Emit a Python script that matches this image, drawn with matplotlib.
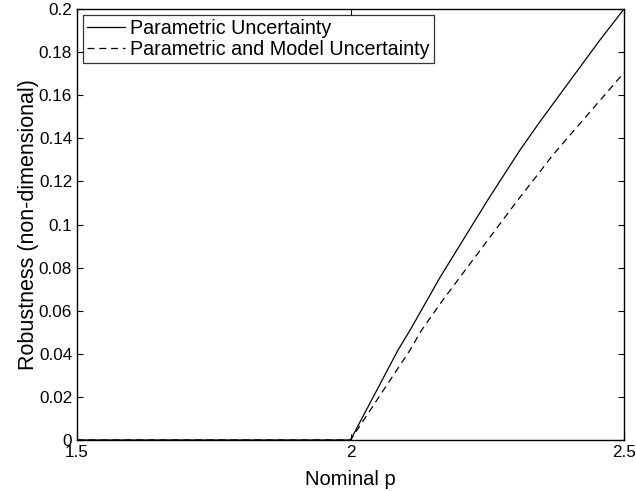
import matplotlib
matplotlib.use("Agg")
import matplotlib.pyplot as plt

plt.rcParams["font.family"] = ["Liberation Sans", "DejaVu Sans"]
plt.rcParams["lines.scale_dashes"] = False

# nominal p vs robustness
p_param = [1.5, 2.0, 2.087, 2.109, 2.164, 2.251, 2.31, 2.346, 2.456, 2.5]
rob_param = [0.0, 0.0, 0.0418, 0.051, 0.0756, 0.1114, 0.1346, 0.1476, 0.1856, 0.2]

p_model = [1.5, 2.0, 2.109, 2.130, 2.169, 2.306, 2.346, 2.370, 2.493, 2.5]
rob_model = [0.0, 0.0, 0.0418, 0.051, 0.065, 0.1114, 0.1244, 0.1323, 0.1684, 0.1705]

xticks = [1.5, 2.0, 2.5]
xtick_labels = ["1.5", "2", "2.5"]
yticks = [0, 0.02, 0.04, 0.06, 0.08, 0.1, 0.12, 0.14, 0.16, 0.18, 0.2]
ytick_labels = ["0", "0.02", "0.04", "0.06", "0.08", "0.1", "0.12", "0.14",
                "0.16", "0.18", "0.2"]

fig = plt.figure(figsize=(6.36, 4.91), dpi=100)
ax = fig.add_axes([77 / 636, 1 - 440 / 491, 547 / 636, 431 / 491])

ax.plot(p_param, rob_param, color="black", lw=0.9, label="Parametric Uncertainty")
ax.plot(p_model, rob_model, color="black", lw=0.9, dashes=(5, 3.5),
        label="Parametric and Model Uncertainty")

ax.set_xlim(1.5, 2.5)
ax.set_ylim(0, 0.2)
ax.set_xticks(xticks)
ax.set_xticklabels(xtick_labels)
ax.set_yticks(yticks)
ax.set_yticklabels(ytick_labels)
ax.tick_params(direction="in", top=True, right=True, length=4, width=0.8,
               labelsize=12.3, pad=3.5)
for s in ax.spines.values():
    s.set_linewidth(1.0)

ax.set_xlabel("Nominal p", fontsize=14.5, labelpad=7)
ax.set_ylabel("Robustness (non-dimensional)", fontsize=15.5, labelpad=0)

leg = ax.legend(loc="upper left", fontsize=14.2, frameon=True, fancybox=False,
                edgecolor="black", borderaxespad=0.3, handlelength=1.95,
                handletextpad=0.25, borderpad=0.2, labelspacing=0.12)
leg.get_frame().set_linewidth(0.9)

fig.savefig("out.png", dpi=100)
